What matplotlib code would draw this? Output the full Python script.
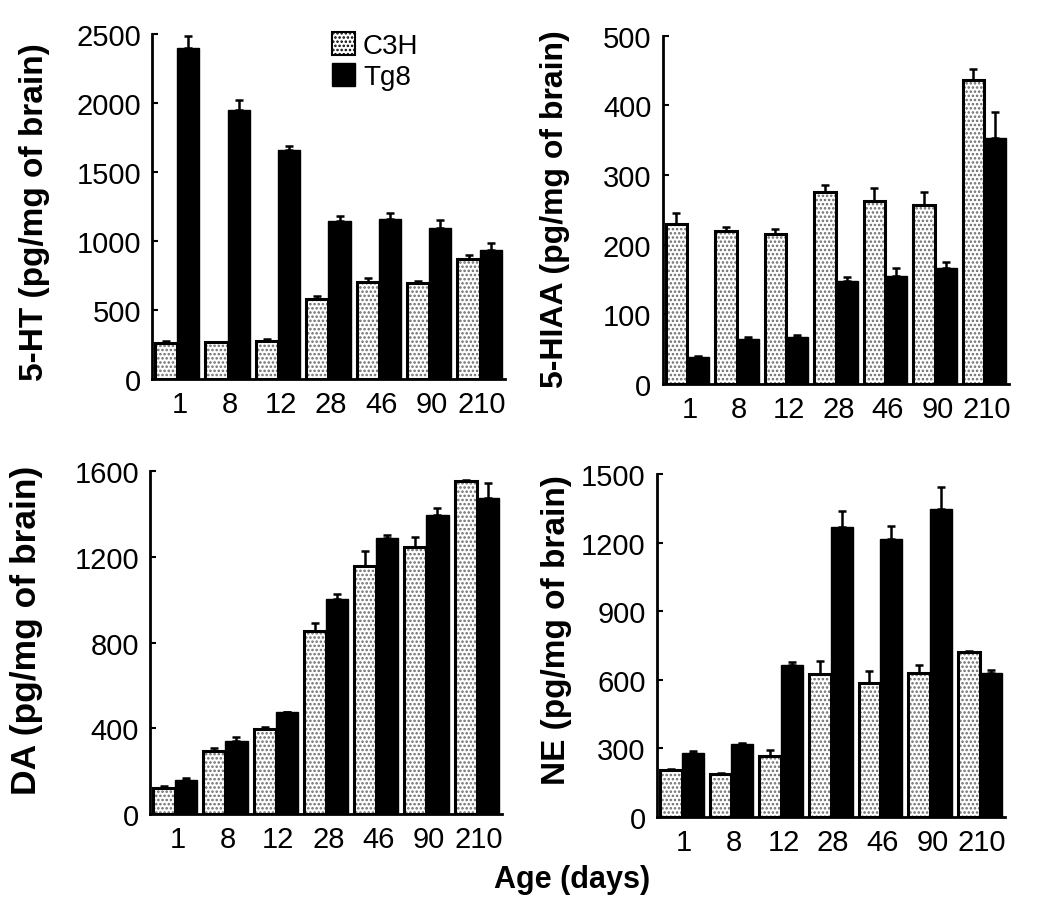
import matplotlib
matplotlib.use("Agg")
import matplotlib.pyplot as plt
from matplotlib.patches import Patch
import numpy as np

plt.rcParams['font.family'] = ['Liberation Sans', 'DejaVu Sans']
plt.rcParams['hatch.linewidth'] = 1.2

ages = ["1", "8", "12", "28", "46", "90", "210"]

# 5-HT
ht_c3h = [260, 265, 278, 580, 705, 696, 870]
ht_c3h_err = [15, 5, 12, 24, 29, 17, 31]
ht_tg8 = [2400, 1950, 1662, 1147, 1164, 1094, 937]
ht_tg8_err = [89, 75, 29, 36, 39, 60, 48]

# 5-HIAA
hiaa_c3h = [230, 219, 215, 276, 263, 257, 436]
hiaa_c3h_err = [15, 7, 8, 9, 19, 19, 17]
hiaa_tg8 = [38, 64, 68, 148, 155, 167, 353]
hiaa_tg8_err = [2, 3, 2, 6, 12, 8, 37]

# DA
da_c3h = [120, 295, 396, 854, 1157, 1245, 1553]
da_c3h_err = [9, 15, 11, 36, 70, 48, 3]
da_tg8 = [160, 342, 474, 1002, 1289, 1393, 1472]
da_tg8_err = [6, 15, 3, 23, 11, 36, 73]

# NE
ne_c3h = [205, 190, 265, 625, 585, 630, 720]
ne_c3h_err = [3, 3, 29, 58, 55, 33, 7]
ne_tg8 = [280, 320, 665, 1270, 1215, 1345, 630]
ne_tg8_err = [7, 4, 12, 68, 58, 98, 12]

fig = plt.figure(figsize=(10.5, 9.12), dpi=100)

panels = [
    # (rect, c3h, c3h_err, tg8, tg8_err, ymax, ticks, label, label_xy, label_size)
    ([0.1448, 0.5833, 0.336, 0.378], ht_c3h, ht_c3h_err, ht_tg8, ht_tg8_err,
     2500, [0, 500, 1000, 1500, 2000, 2500], "5-HT (pg/mg of brain)", (-0.289, 0.487), 24),
    ([0.631, 0.578, 0.330, 0.3816], hiaa_c3h, hiaa_c3h_err, hiaa_tg8, hiaa_tg8_err,
     500, [0, 100, 200, 300, 400, 500], "5-HIAA (pg/mg of brain)", (-0.268, 0.506), 23),
    ([0.1429, 0.1064, 0.335, 0.376], da_c3h, da_c3h_err, da_tg8, da_tg8_err,
     1600, [0, 400, 800, 1200, 1600], "DA (pg/mg of brain)", (-0.304, 0.539), 25.5),
    ([0.6257, 0.1031, 0.331, 0.376], ne_c3h, ne_c3h_err, ne_tg8, ne_tg8_err,
     1500, [0, 300, 600, 900, 1200, 1500], "NE (pg/mg of brain)", (-0.244, 0.548), 24),
]

x = np.arange(len(ages))
w = 0.44

axes = []
for rect, c3h, c3h_err, tg8, tg8_err, ymax, ticks, label, lxy, lsize in panels:
    ax = fig.add_axes(rect)
    # stippled C3H bars: hatch in grey first, then black outline
    ax.bar(x - w / 2, c3h, w, color="white", hatch="....", edgecolor="#6a6a6a",
           linewidth=0, zorder=2)
    ax.bar(x - w / 2, c3h, w, fill=False, edgecolor="black", linewidth=2.2, zorder=3)
    ax.bar(x + w / 2, tg8, w, color="black", edgecolor="black", linewidth=1, zorder=3)
    ax.errorbar(x - w / 2, c3h, yerr=[np.zeros(len(c3h)), c3h_err], fmt="none",
                ecolor="black", elinewidth=1.8, capsize=3, capthick=1.8, zorder=4)
    ax.errorbar(x + w / 2, tg8, yerr=[np.zeros(len(tg8)), tg8_err], fmt="none",
                ecolor="black", elinewidth=1.8, capsize=3, capthick=1.8, zorder=4)

    ax.set_xlim(-0.5, len(ages) - 0.5)
    ax.set_ylim(0, ymax)
    ax.set_yticks(ticks)
    ax.set_xticks(x + 0.05)
    ax.set_xticklabels(ages)
    ax.spines["top"].set_visible(False)
    ax.spines["right"].set_visible(False)
    ax.spines["left"].set_linewidth(2)
    ax.spines["bottom"].set_linewidth(2)
    ax.tick_params(axis="y", direction="in", length=4, width=1.5, labelsize=21, pad=8)
    ax.tick_params(axis="x", length=0, labelsize=21, pad=8)
    ax.set_ylabel(label, fontsize=lsize, fontweight="bold")
    ax.yaxis.set_label_coords(*lxy)
    axes.append(ax)

handles = [Patch(facecolor="white", edgecolor="black", hatch="....", linewidth=1.5),
           Patch(facecolor="black", edgecolor="black")]
axes[0].legend(handles, ["C3H", "Tg8"], loc="upper left", bbox_to_anchor=(0.48, 1.04),
               frameon=False, fontsize=20, handlelength=0.8, handleheight=0.9,
               handletextpad=0.3, labelspacing=0.15, borderaxespad=0)

fig.text(0.545, 0.035, "Age (days)", ha="center", va="center", fontsize=22,
         fontweight="bold")

fig.savefig("out.png", dpi=100)
